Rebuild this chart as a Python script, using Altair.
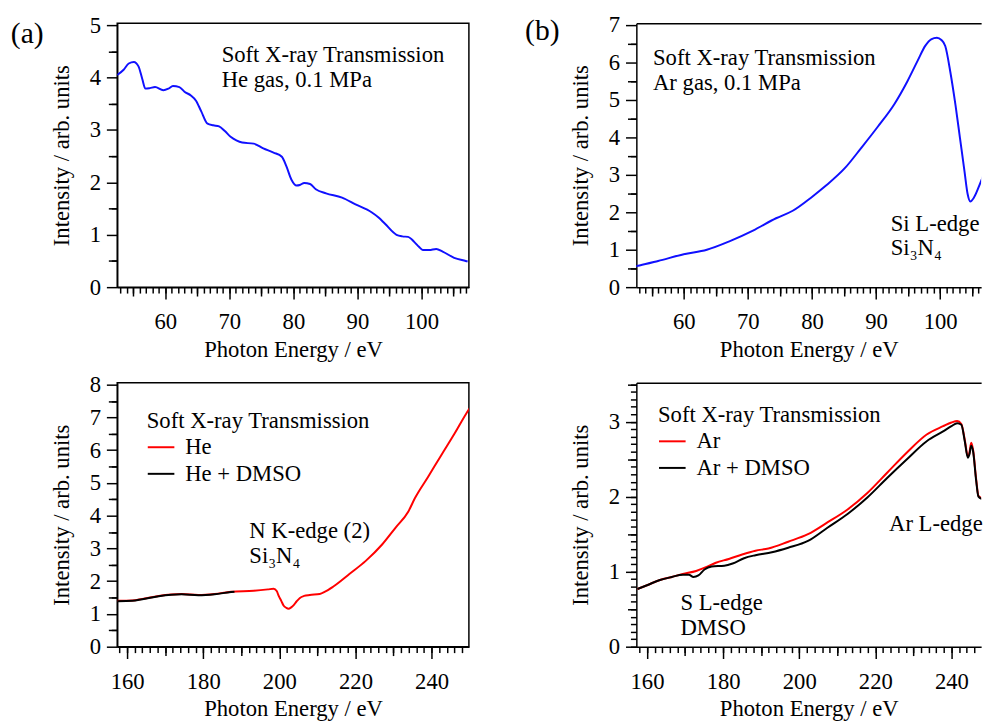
import altair as alt
import pandas as pd

FONT = "Liberation Serif"
FS = 23

# ---------------- data ----------------
# (a) He gas, 0.1 MPa
a_energy = [52.5, 53.5, 54.3, 55.1, 55.8, 56.4, 56.9, 57.6, 58.4, 59.7, 60.5, 61.2, 62.2, 63.0, 64.0,
            64.8, 65.6, 66.6, 67.5, 68.4, 69.3, 70.2, 71.1, 72.0, 73.8, 75.3, 76.9, 78.2, 78.9, 79.7,
            80.5, 81.0, 81.7, 82.6, 83.5, 85.1, 87.6, 89.7, 92.2, 93.3, 94.3, 96.1, 97.0, 97.9, 98.9,
            99.6, 100.2, 101.2, 102.3, 103.3, 105.1, 106.9, 107.2]
a_intensity = [4.05, 4.15, 4.27, 4.30, 4.22, 3.98, 3.79, 3.80, 3.82, 3.76, 3.79, 3.84, 3.82, 3.73, 3.66,
               3.56, 3.36, 3.12, 3.09, 3.07, 2.98, 2.87, 2.80, 2.76, 2.74, 2.65, 2.57, 2.49, 2.31, 2.05,
               1.94, 1.95, 1.99, 1.97, 1.87, 1.79, 1.71, 1.58, 1.43, 1.33, 1.21, 1.00, 0.97, 0.96, 0.86,
               0.77, 0.71, 0.71, 0.73, 0.68, 0.56, 0.50, 0.49]

# (b) Ar gas, 0.1 MPa
b_energy = [52.5, 53.1, 56.0, 60.0, 63.6, 67.2, 70.8, 74.4, 77.0, 80.0, 82.1, 85.2, 87.7, 90.3, 92.9,
            94.9, 96.5, 97.7, 98.6, 99.5, 100.2, 100.8, 101.6, 102.4, 103.1, 103.8, 104.3, 104.7, 105.3,
            106.2, 107.0, 107.5]
b_intensity = [0.56, 0.58, 0.70, 0.88, 1.00, 1.23, 1.51, 1.84, 2.04, 2.41, 2.70, 3.19, 3.72, 4.29, 4.90,
               5.50, 6.05, 6.45, 6.62, 6.66, 6.60, 6.44, 5.74, 4.86, 3.98, 3.10, 2.48, 2.29, 2.40,
               2.75, 3.10, 3.30]

# (c) He and He + DMSO
c_he_energy = [157.5, 161.4, 164.0, 168.3, 174.3, 178.7, 183.0, 187.3, 193.3, 197.0, 198.5, 199.3, 199.8,
               200.5, 201.1, 201.8, 202.4, 203.1, 203.7, 204.5, 205.4, 206.5, 208.0, 210.6, 212.0, 214.1,
               218.4, 222.7, 227.0, 230.5, 233.9, 235.6, 239.1, 242.5, 246.0, 249.0, 250.0]
c_he_intensity = [1.40, 1.41, 1.46, 1.55, 1.61, 1.58, 1.61, 1.68, 1.71, 1.75, 1.77, 1.70, 1.56,
                  1.40, 1.26, 1.19, 1.16, 1.20, 1.26, 1.38, 1.49, 1.55, 1.58, 1.61, 1.68, 1.83,
                  2.22, 2.62, 3.12, 3.63, 4.13, 4.53, 5.19, 5.84, 6.50, 7.10, 7.28]
c_dmso_energy = [157.5, 161.4, 164.0, 168.3, 174.3, 178.7, 183.0, 187.3, 188.2]
c_dmso_intensity = [1.39, 1.40, 1.45, 1.54, 1.60, 1.57, 1.60, 1.67, 1.68]

# (d) Ar and Ar + DMSO
d_ar_energy = [157.5, 160.0, 163.4, 166.5, 169.4, 172.9, 175.5, 178.1, 181.5, 185.0, 188.5, 191.9, 197.1,
               202.3, 207.5, 212.7, 217.9, 223.1, 228.3, 233.5, 237.8, 240.0, 241.5, 242.6, 243.5, 244.3,
               244.7, 245.2, 245.7, 246.5, 247.1, 248.0, 250.0]
d_ar_intensity = [0.77, 0.82, 0.89, 0.93, 0.97, 1.01, 1.06, 1.12, 1.17, 1.23, 1.28, 1.31, 1.40,
                  1.50, 1.66, 1.83, 2.05, 2.32, 2.59, 2.83, 2.94, 2.99, 3.01, 2.97, 2.76, 2.54,
                  2.58, 2.72, 2.62, 2.23, 2.01, 1.98, 1.96]
d_dmso_energy = [157.5, 160.0, 163.4, 166.5, 169.4, 171.0, 172.2, 173.5, 175.1, 177.0, 180.3, 182.5, 185.5,
                 188.5, 192.8, 197.1, 202.3, 207.5, 212.7, 217.9, 223.1, 228.3, 233.5, 237.8, 240.0, 241.5,
                 242.6, 243.5, 244.3, 244.7, 245.2, 245.7, 246.5, 247.1, 248.0, 250.0]
d_dmso_intensity = [0.77, 0.82, 0.89, 0.93, 0.96, 0.96, 0.93, 0.95, 1.03, 1.07, 1.08, 1.11, 1.18,
                    1.22, 1.26, 1.32, 1.41, 1.59, 1.77, 1.99, 2.25, 2.50, 2.74, 2.87, 2.94, 2.98,
                    2.96, 2.74, 2.52, 2.56, 2.68, 2.60, 2.21, 2.00, 1.97, 1.95]

# tick positions
x_low_major = [60, 70, 80, 90, 100]
x_low_mid = [55, 65, 75, 85, 95, 105]
x_low_minor = list(range(53, 108))
x_high_major = [160, 180, 200, 220, 240]
x_high_mid = [170, 190, 210, 230, 250]
x_high_minor = list(range(158, 251, 2))
ya_major = [0, 1, 2, 3, 4, 5]
ya_minor = [0.5, 1.5, 2.5, 3.5, 4.5]
yb_major = [0, 1, 2, 3, 4, 5, 6, 7]
yb_minor = [0.5, 1.5, 2.5, 3.5, 4.5, 5.5, 6.5]
yc_major = [0, 1, 2, 3, 4, 5, 6, 7, 8]
yc_minor = [0.5, 1.5, 2.5, 3.5, 4.5, 5.5, 6.5, 7.5]
yd_major = [0, 1, 2, 3]
yd_mid = [0.5, 1.5, 2.5, 3.5]
yd_minor = [round(i / 10, 1) for i in range(0, 36)]

# annotations (data coordinates)
a_ann = pd.DataFrame({"x": [68.8, 68.8], "y": [4.30, 3.83],
                      "label": ["Soft X-ray Transmission", "He gas, 0.1 MPa"]})
b_ann = pd.DataFrame({"x": [55.2, 55.2, 92.3, 92.3], "y": [5.92, 5.26, 1.51, 0.85],
                      "label": ["Soft X-ray Transmission", "Ar gas, 0.1 MPa", "Si L-edge", "Si₃N₄"]})
c_ann = pd.DataFrame({"x": [192.1, 192.1], "y": [3.32, 2.57],
                      "label": ["N K-edge (2)", "Si₃N₄"]})
d_ann = pd.DataFrame({"x": [223.6, 168.8, 168.8], "y": [1.54, 0.49, 0.16],
                      "label": ["Ar L-edge", "S L-edge", "DMSO"]})


def make_df(series):
    rows = []
    for name, xs, ys in series:
        for i, (x, y) in enumerate(zip(xs, ys)):
            rows.append({"series": name, "x": x, "y": y, "order": i})
    return pd.DataFrame(rows)


def ghost(df, xsc, ysc, xvals, yvals, size):
    return alt.Chart(df).mark_line(opacity=0).encode(
        x=alt.X("x:Q", scale=xsc, axis=alt.Axis(values=xvals, tickSize=size, labels=False, domain=False,
                                                 title=None, orient="bottom", grid=False)),
        y=alt.Y("y:Q", scale=ysc, axis=alt.Axis(values=yvals, tickSize=size, labels=False, domain=False,
                                                 title=None, orient="left", grid=False)),
    )


def panel(df, ann, label, label_dx, label_dy, xdom, ydom, xmaj, xmid, xmin, ymaj, ymid, ymin,
          color, width, full_frame, legend=None):
    xsc = alt.Scale(domain=xdom, nice=False, zero=False)
    ysc = alt.Scale(domain=ydom, nice=False, zero=False)
    layers = [ghost(df, xsc, ysc, xmin, ymin, 6), ghost(df, xsc, ysc, xmid, ymid, 9)]
    if color is None:
        col = alt.Color("series:N",
                        scale=alt.Scale(domain=legend[0], range=["#ff0000", "#000000"]),
                        legend=alt.Legend(orient="none", legendX=legend[1], legendY=legend[2],
                                          title="Soft X-ray Transmission", symbolType="stroke",
                                          symbolSize=729, symbolStrokeWidth=2, titleLimit=400,
                                          labelLimit=300, labelOffset=10, rowPadding=-2, titlePadding=0))
    else:
        col = alt.value(color)
    line = alt.Chart(df).mark_line(strokeWidth=2, clip=True, interpolate="monotone").encode(
        x=alt.X("x:Q", scale=xsc, axis=alt.Axis(values=xmaj, tickSize=12, orient="bottom",
                                                 title="Photon Energy / eV", grid=False,
                                                 labelPadding=12, titlePadding=5)),
        y=alt.Y("y:Q", scale=ysc, axis=alt.Axis(values=ymaj, tickSize=11, orient="left",
                                                 title="Intensity / arb. units", grid=False,
                                                 labelPadding=6, titlePadding=16)),
        color=col,
        order="order:Q",
    )
    layers.append(line)
    if not full_frame:
        top = alt.Chart(df).mark_line(opacity=0).encode(
            x=alt.X("x:Q", scale=xsc, axis=alt.Axis(orient="top", ticks=False, labels=False, domain=True,
                                                     title=None, grid=False)),
            y=alt.Y("y:Q", scale=ysc, axis=None),
        )
        layers.append(top)
    txt = alt.Chart(ann).mark_text(align="left", baseline="alphabetic", font=FONT, fontSize=FS,
                                   color="black").encode(
        x=alt.X("x:Q", scale=xsc, axis=None),
        y=alt.Y("y:Q", scale=ysc, axis=None),
        text="label:N",
    )
    layers.append(txt)
    if label:
        lab = alt.Chart(pd.DataFrame({"label": [label]})).mark_text(
            align="left", baseline="middle", font=FONT, fontSize=30, color="black").encode(
            x=alt.value(label_dx), y=alt.value(label_dy), text="label:N")
        layers.append(lab)
    ch = alt.layer(*layers).resolve_axis(x="independent", y="independent").properties(
        width=width, height=268)
    if full_frame:
        ch = ch.properties(view=alt.ViewBackground(stroke="black", strokeWidth=1.5))
    return ch


df_a = make_df([("He", a_energy, a_intensity)])
df_b = make_df([("Ar", b_energy, b_intensity)])
df_c = make_df([("He", c_he_energy, c_he_intensity), ("He + DMSO", c_dmso_energy, c_dmso_intensity)])
df_d = make_df([("Ar", d_ar_energy, d_ar_intensity), ("Ar + DMSO", d_dmso_energy, d_dmso_intensity)])

pa = panel(df_a, a_ann, "(a)", -108, 11, [52.5, 107.4], [0, 5.04], x_low_major, x_low_mid, x_low_minor,
           ya_major, ya_minor, ya_minor, "#1010ff", 357, True)
pb = panel(df_b, b_ann, "(b)", -113, 8, [52.6, 106.4], [0, 7.05], x_low_major, x_low_mid, x_low_minor,
           yb_major, yb_minor, yb_minor, "#1010ff", 350, False)
pc = panel(df_c, c_ann, "", -108, 12, [157.4, 249.8], [0, 8.06], x_high_major, x_high_mid, x_high_minor,
           yc_major, yc_minor, yc_minor, None, 357, True, legend=(["He", "He + DMSO"], 30, 28))
pd_ = panel(df_d, d_ann, "", -108, 12, [157.2, 247.8], [0, 3.52], x_high_major, x_high_mid, x_high_minor,
            yd_major, yd_mid, yd_minor, None, 350, False, legend=(["Ar", "Ar + DMSO"], 22, 22))

chart = alt.concat(pa, pb, pc, pd_, columns=2, spacing={"row": 97, "column": 170}, bounds="flush"
                   ).resolve_scale(color="independent").properties(
    padding={"left": 10, "top": 8, "right": 0, "bottom": 0}
).configure_view(strokeWidth=0).configure_axis(
    labelFont=FONT, labelFontSize=FS, titleFont=FONT, titleFontSize=FS, titleFontWeight="normal",
    labelColor="black", titleColor="black", tickColor="black", domainColor="black",
    tickWidth=1.5, domainWidth=1.5,
).configure_legend(
    labelFont=FONT, labelFontSize=FS, titleFont=FONT, titleFontSize=FS, titleFontWeight="normal",
    labelColor="black", titleColor="black", padding=0,
)

chart.save("out.html", embed_options={"renderer": "svg", "actions": False})
